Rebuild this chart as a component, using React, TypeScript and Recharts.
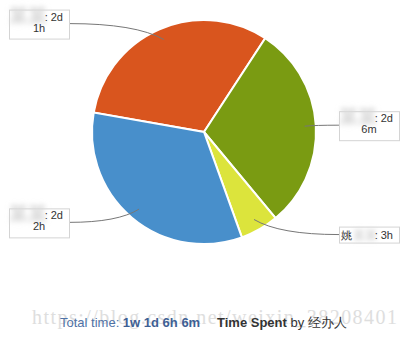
import { PieChart, Pie, Cell } from 'recharts'

// time spent per assignee, hours (1d = 8h, 1w = 5d)
const HOURS = [17, 16.1, 3, 18]
const SPENT = ['2d 1h', '2d 6m', '3h', '2d 2h']
// names are blurred in the screenshot, only the first char of one is readable
const NAME_SHOWN = ['', '', '姚', '']
const NAME_HIDDEN = ['某某', '某某', '某某', '某某']
const TOTAL_TIME = '1w 1d 6h 6m'
const COLORS = ['#d9551e', '#7a9b12', '#dce43c', '#488fcb']

const data = HOURS.map((h, i) => ({ name: NAME_SHOWN[i] + NAME_HIDDEN[i], hours: h, spent: SPENT[i] }))

const RAD = Math.PI / 180
const FONT = '"Liberation Sans", Arial, sans-serif'

function SliceLabel(props: any) {
  const { cx, cy, midAngle, outerRadius, index } = props
  const cos = Math.cos(midAngle * RAD)
  const sin = Math.sin(midAngle * RAD)
  const right = cos >= 0
  // anchor point inside the slice
  const px = cx + outerRadius * 0.9 * cos
  const py = cy - outerRadius * 0.9 * sin
  const ly = cy - outerRadius * 1.055 * sin
  const w = 60
  const boxLeft = right ? cx + 135 : cx - 135 - w
  const boxRight = boxLeft + w
  const x0 = right ? boxLeft : boxRight
  const ctrl = px + 0.3 * (x0 - px)
  const parts = data[index].spent.split(' ')
  const first = parts[0]
  const rest = parts.slice(1).join(' ')
  const twoLines = rest.length > 0
  const h = twoLines ? 29 : 16
  const top = twoLines ? ly - 14 : ly - 8
  const base1 = twoLines ? ly - 3 : ly + 4
  return (
    <g>
      <defs>
        <filter id={`smudge-${index}`} x="-50%" y="-80%" width="200%" height="260%">
          <feGaussianBlur stdDeviation="2.6" />
        </filter>
      </defs>
      <path d={`M${x0},${ly} Q${ctrl},${ly} ${px},${py}`} stroke="#777" strokeWidth={1} fill="none" />
      <rect x={boxLeft + 0.5} y={top + 0.5} width={w} height={h} fill="#fff" stroke="#d4d4d4" />
      {NAME_SHOWN[index] && (
        <text x={boxLeft + 2} y={base1} fontSize={11} fontFamily={FONT} fill="#333">
          {NAME_SHOWN[index]}
        </text>
      )}
      <text
        x={boxRight - 22}
        y={twoLines ? base1 + 2 : base1 + 1}
        fontSize={twoLines ? 19 : 12}
        textAnchor="end"
        fill="#d9d9d9"
        filter={`url(#smudge-${index})`}
        fontFamily='"Noto Sans CJK SC", sans-serif'
        fontWeight="bold"
      >
        {NAME_HIDDEN[index]}
      </text>
      <text x={boxRight - 6} y={base1} fontSize={11} textAnchor="end" fontFamily={FONT} fill="#333">
        {': ' + first}
      </text>
      {twoLines && (
        <text x={boxLeft + w / 2} y={ly + 8} fontSize={11} textAnchor="middle" fontFamily={FONT} fill="#333">
          {rest}
        </text>
      )}
    </g>
  )
}

export default function App() {
  return (
    <div style={{ position: 'absolute', left: 0, top: 0, width: 412, height: 339, background: '#fff' }}>
      <PieChart width={412} height={339} margin={{ top: 0, right: 0, bottom: 0, left: 0 }}>
        <Pie
          data={data}
          dataKey="hours"
          nameKey="name"
          cx={204}
          cy={132}
          outerRadius={112}
          startAngle={170}
          endAngle={-190}
          stroke="#fff"
          strokeWidth={2}
          label={SliceLabel}
          labelLine={false}
          isAnimationActive={false}
        >
          {data.map((d, i) => (
            <Cell key={d.spent + i} fill={COLORS[i]} />
          ))}
        </Pie>
      </PieChart>
      <svg width={412} height={339} style={{ position: 'absolute', left: 0, top: 0, pointerEvents: 'none' }}>
        <text
          x={32}
          y={324}
          fontSize={20}
          fontFamily='"Liberation Serif", serif'
          fill="#dedede"
          textLength={365}
          lengthAdjust="spacing"
        >
          https://blog.csdn.net/weixin_38208401
        </text>
        <text x={60} y={327} fontSize={13} fontFamily={FONT}>
          <tspan fill="#4f72a6">Total time: </tspan>
          <tspan fill="#3e6094" fontWeight="bold">{TOTAL_TIME}</tspan>
        </text>
        <text x={217} y={327} fontSize={13} fontFamily={FONT} fill="#333">
          <tspan fontWeight="bold">Time Spent</tspan>
          <tspan> by 经办人</tspan>
        </text>
      </svg>
    </div>
  )
}
